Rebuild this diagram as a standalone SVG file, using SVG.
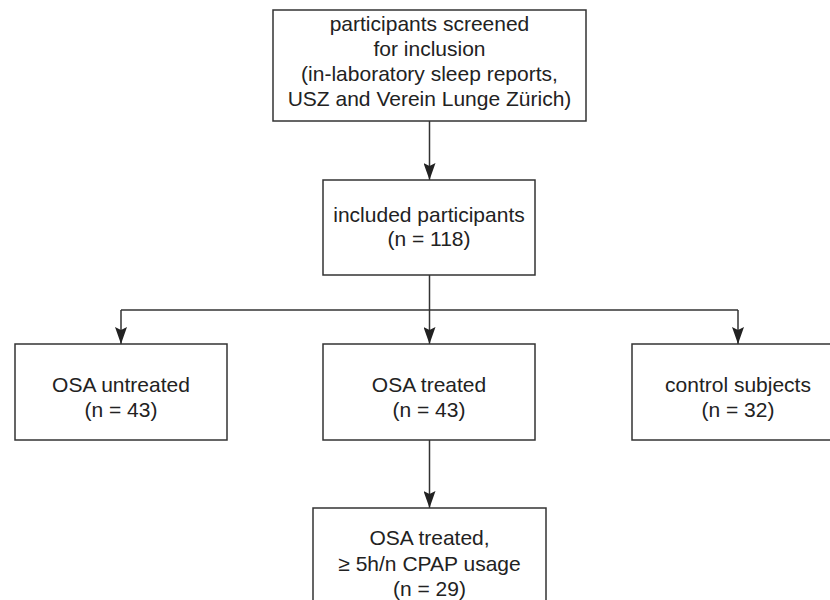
<svg xmlns="http://www.w3.org/2000/svg" width="830" height="600" viewBox="0 0 830 600">
<defs>
<style>
.box{fill:#fff;stroke:#333;stroke-width:1.5}
.t{font-family:"Liberation Sans",Arial,sans-serif;font-size:21px;fill:#222;text-anchor:middle}
.c{fill:none;stroke:#333;stroke-width:1.5}
</style>
<marker id="arr" markerUnits="userSpaceOnUse" markerWidth="17" markerHeight="12" viewBox="0 0 17 12" refX="17" refY="6" orient="auto">
<path d="M0,0 L17,6 L0,12 L3,6 Z" fill="#222"/>
</marker>
</defs>
<rect width="830" height="600" fill="#fff"/>
<g id="connectors">
<path class="c" d="M429.5,121 V180" marker-end="url(#arr)"/>
<path class="c" d="M429.5,275 V344" marker-end="url(#arr)"/>
<path class="c" d="M121,310 H738"/>
<path class="c" d="M121,310 V344" marker-end="url(#arr)"/>
<path class="c" d="M738,310 V344" marker-end="url(#arr)"/>
<path class="c" d="M429.5,440 V508" marker-end="url(#arr)"/>
</g>
<g id="screened">
<rect class="box" x="273" y="10" width="313" height="111"/>
<text class="t" x="429.5" y="31">participants screened</text>
<text class="t" x="429.5" y="56">for inclusion</text>
<text class="t" x="429.5" y="81">(in-laboratory sleep reports,</text>
<text class="t" x="429.5" y="106">USZ and Verein Lunge Zürich)</text>
</g>
<g id="included">
<rect class="box" x="323" y="180" width="212" height="95"/>
<text class="t" x="429" y="222">included participants</text>
<text class="t" x="429" y="246">(n = 118)</text>
</g>
<g id="untreated">
<rect class="box" x="15" y="344" width="212" height="96"/>
<text class="t" x="121" y="392">OSA untreated</text>
<text class="t" x="121" y="417">(n = 43)</text>
</g>
<g id="treated">
<rect class="box" x="323" y="344" width="212" height="96"/>
<text class="t" x="429" y="392">OSA treated</text>
<text class="t" x="429" y="417">(n = 43)</text>
</g>
<g id="control">
<rect class="box" x="632" y="344" width="212" height="96"/>
<text class="t" x="738" y="392">control subjects</text>
<text class="t" x="738" y="417">(n = 32)</text>
</g>
<g id="cpap">
<rect class="box" x="313" y="508" width="233" height="110"/>
<text class="t" x="429.5" y="545">OSA treated,</text>
<text class="t" x="429.5" y="571">≥ 5h/n CPAP usage</text>
<text class="t" x="429.5" y="596">(n = 29)</text>
</g>
</svg>
